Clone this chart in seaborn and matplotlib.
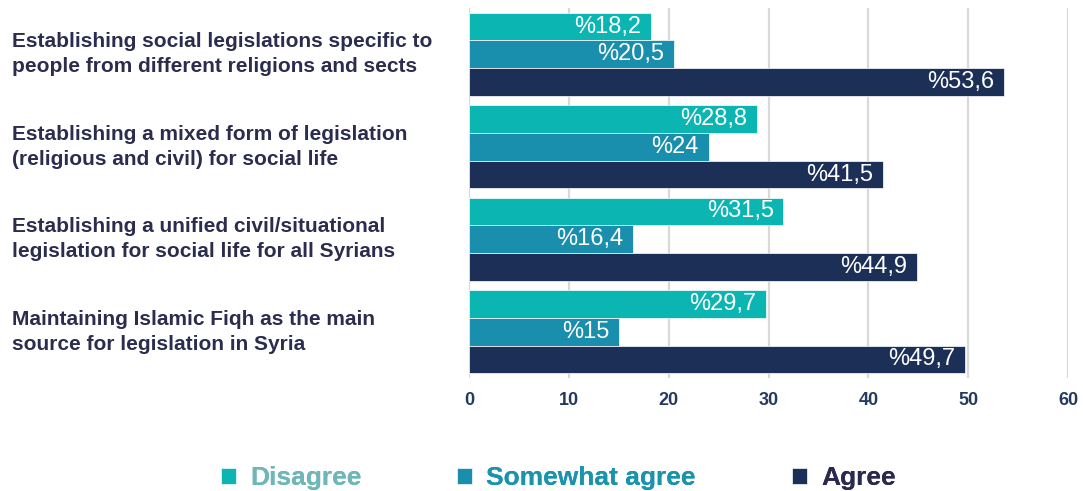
import matplotlib
matplotlib.use("Agg")
import matplotlib.pyplot as plt
import matplotlib.transforms as mtransforms
import seaborn as sns
import pandas as pd

# Survey statements (y categories) and answer shares in percent
statements = [
    "Establishing social legislations specific to\npeople from different religions and sects",
    "Establishing a mixed form of legislation\n(religious and civil) for social life",
    "Establishing a unified civil/situational\nlegislation for social life for all Syrians",
    "Maintaining Islamic Fiqh as the main\nsource for legislation in Syria",
]
responses = ["Disagree", "Somewhat agree", "Agree"]
disagree = [18.2, 28.8, 31.5, 29.7]
somewhat_agree = [20.5, 24, 16.4, 15]
agree = [53.6, 41.5, 44.9, 49.7]
x_ticks = [0, 10, 20, 30, 40, 50, 60]

bar_colors = ["#0BB5B1", "#1A8FAD", "#1B2F57"]
legend_text_colors = ["#6FB7B7", "#1A93AD", "#2A2A4E"]
label_color = "#2B2D4F"
tick_color = "#253A5E"

df = pd.DataFrame({
    "statement": statements * 3,
    "response": [r for r in responses for _ in statements],
    "value": disagree + somewhat_agree + agree,
})

sns.set_theme(style="white")
plt.rcParams["font.family"] = ["Liberation Sans", "DejaVu Sans"]

fig = plt.figure(figsize=(10.83, 4.91), dpi=100)
ax = fig.add_axes([469 / 1083, 1 - 378 / 491, (1068 - 469) / 1083, (378 - 8) / 491])

sns.barplot(
    data=df, y="statement", x="value", hue="response", order=statements,
    hue_order=responses, palette=bar_colors, orient="h", width=0.9,
    edgecolor="white", linewidth=0.5, saturation=1, ax=ax,
)

ax.set_xlim(0, 60)
ax.set_ylim(3.5, -0.5)
ax.set_xticks(x_ticks)
ax.set_xticklabels([str(t) for t in x_ticks], fontsize=13, fontweight="bold", color=tick_color)
ax.tick_params(axis="x", length=0, pad=10)
ax.set_yticks(range(len(statements)))
ax.set_yticklabels([])
ax.tick_params(axis="y", length=0)
ax.set_xlabel("")
ax.set_ylabel("")
for s in ax.spines.values():
    s.set_visible(False)
ax.grid(axis="x", color="#D9D9D9", linewidth=1.6)
ax.set_axisbelow(True)

# Value labels inside the end of every bar
for container in ax.containers:
    for rect in container:
        v = rect.get_width()
        txt = "%" + f"{v:g}".replace(".", ",")
        ax.annotate(txt, (v, rect.get_y() + rect.get_height() / 2),
                    xytext=(-7, 0), textcoords="offset points",
                    ha="right", va="center", color="white", fontsize=17)

# Statement labels, left aligned at the figure edge
trans = mtransforms.blended_transform_factory(fig.transFigure, ax.transData)
for i, s in enumerate(statements):
    ax.text(12 / 1083, i, s, transform=trans, ha="left", va="center",
            fontsize=15, fontweight="bold", color=label_color, linespacing=1.42)

# Legend: one entry per response, spread along the bottom
handles, labels = ax.get_legend_handles_labels()
ax.get_legend().remove()
anchors = [221 / 1083, 457 / 1083, 792 / 1083]
for h, lab, col, xa in zip(handles, labels, legend_text_colors, anchors):
    leg = fig.legend([h], [lab], loc="center left", bbox_to_anchor=(xa, 1 - 478 / 491),
                     frameon=False, handlelength=0.55, handleheight=0.55,
                     handletextpad=0.55, borderpad=0, borderaxespad=0,
                     prop={"size": 19, "weight": "bold"})
    for t in leg.get_texts():
        t.set_color(col)
    fig.add_artist(leg)

fig.savefig("out.png", dpi=100)
